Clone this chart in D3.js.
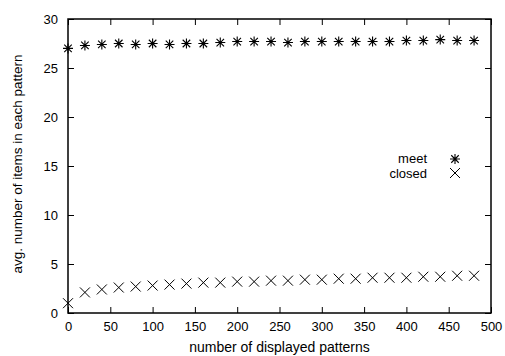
<!DOCTYPE html>
<html>
<head>
<meta charset="utf-8">
<script src="https://cdn.jsdelivr.net/npm/d3@7"></script>
<style>
body{margin:0;background:#fff;}
text{font-family:"Liberation Sans",Arial,sans-serif;fill:#000;}
</style>
</head>
<body>
<svg id="chart" width="505" height="356"></svg>
<script>
// data
var patterns=[0,20,40,60,80,100,120,140,160,180,200,220,240,260,280,300,320,340,360,380,400,420,440,460,480];
var meetItems=[27.0,27.3,27.4,27.5,27.4,27.5,27.4,27.5,27.5,27.6,27.7,27.7,27.7,27.6,27.7,27.7,27.7,27.7,27.7,27.7,27.8,27.8,27.9,27.8,27.8];
var closedItems=[1.0,2.1,2.4,2.6,2.7,2.8,2.9,3.0,3.1,3.1,3.2,3.2,3.3,3.3,3.4,3.4,3.5,3.5,3.6,3.6,3.6,3.7,3.7,3.8,3.8];
var xticks=[0,50,100,150,200,250,300,350,400,450,500];
var yticks=[0,5,10,15,20,25,30];

var margin={top:19,left:68,bottom:43,right:14};
var width=505-margin.left-margin.right;
var height=356-margin.top-margin.bottom;

var svg=d3.select("#chart")
    .append('g')
    .attr('transform','translate('+margin.left+','+margin.top+')');

var xScale=d3.scaleLinear().domain([0,500]).range([0,width]);
var yScale=d3.scaleLinear().domain([0,30]).range([height,0]);

// axes, gnuplot style: ticks pointing in, mirrored
svg.append('g')
    .attr('transform','translate(0,'+height+')')
    .call(d3.axisBottom(xScale).tickValues(xticks).tickSizeInner(-6).tickSizeOuter(0).tickPadding(9))
    .call(g=>g.select('.domain').remove())
    .selectAll('text').style('font-size','13px');

svg.append('g')
    .call(d3.axisTop(xScale).tickValues(xticks).tickSizeInner(-6).tickSizeOuter(0))
    .call(g=>g.select('.domain').remove())
    .selectAll('text').remove();

svg.append('g')
    .call(d3.axisLeft(yScale).tickValues(yticks).tickSizeInner(-6).tickSizeOuter(0).tickPadding(10))
    .call(g=>g.select('.domain').remove())
    .selectAll('text').style('font-size','13px');

svg.append('g')
    .attr('transform','translate('+width+',0)')
    .call(d3.axisRight(yScale).tickValues(yticks).tickSizeInner(-6).tickSizeOuter(0))
    .call(g=>g.select('.domain').remove())
    .selectAll('text').remove();

svg.append('rect')
    .attr('width',width)
    .attr('height',height)
    .attr('fill','none')
    .attr('stroke','#000')
    .attr('stroke-width',1.5);

// axis titles
svg.append('text')
    .attr('x',width/2)
    .attr('y',height+39)
    .attr('text-anchor','middle')
    .style('font-size','14px')
    .text('number of displayed patterns');

svg.append('text')
    .attr('transform','translate('+(-46)+','+(height/2-2)+') rotate(-90)')
    .attr('text-anchor','middle')
    .style('font-size','13.5px')
    .text('avg. number of items in each pattern');

// point symbols
function star(g,x,y){
    var r=5;
    g.append('path')
        .attr('d','M'+(x-r)+','+y+'H'+(x+r)+'M'+x+','+(y-r)+'V'+(y+r)+
            'M'+(x-r*0.75)+','+(y-r*0.75)+'L'+(x+r*0.75)+','+(y+r*0.75)+
            'M'+(x-r*0.75)+','+(y+r*0.75)+'L'+(x+r*0.75)+','+(y-r*0.75))
        .attr('stroke','#000').attr('stroke-width',1.1).attr('fill','none');
}
function cross(g,x,y){
    var r=5;
    g.append('path')
        .attr('d','M'+(x-r)+','+(y-r)+'L'+(x+r)+','+(y+r)+'M'+(x-r)+','+(y+r)+'L'+(x+r)+','+(y-r))
        .attr('stroke','#000').attr('stroke-width',1).attr('fill','none');
}

var pts=svg.append('g');
patterns.forEach(function(p,i){
    star(pts,xScale(p),yScale(meetItems[i]));
    cross(pts,xScale(p),yScale(closedItems[i]));
});

// legend
svg.append('text').attr('x',359).attr('y',144).attr('text-anchor','end').style('font-size','13px').text('meet');
svg.append('text').attr('x',359).attr('y',159).attr('text-anchor','end').style('font-size','13px').text('closed');
star(svg,387,140);
cross(svg,387,154);
</script>
</body>
</html>
